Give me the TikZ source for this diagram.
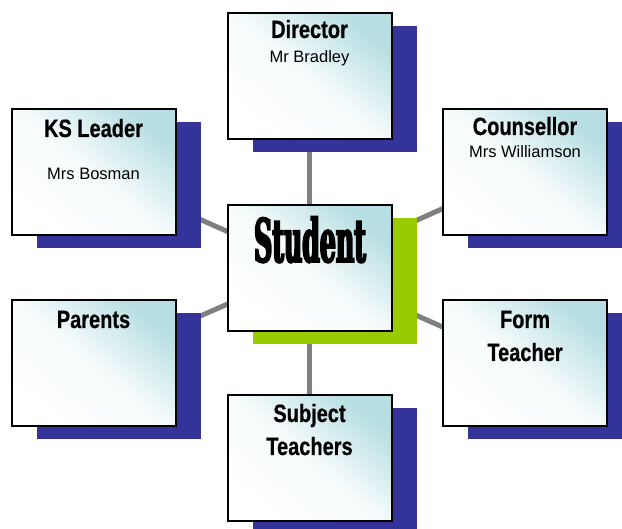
\documentclass[tikz,border=0pt]{standalone}
\usepackage{fontspec}
\setmainfont{Liberation Sans}
\newfontfamily\rolefont[FakeStretch=0.8, BoldFeatures={FakeBold=0.6}]{Liberation Sans}
\newfontfamily\studfont[FakeStretch=0.42, BoldFeatures={FakeBold=3}]{DejaVu Serif}
\usetikzlibrary{shadows,backgrounds}
\definecolor{shadowblue}{RGB}{51,51,153}
\definecolor{shadowgreen}{RGB}{153,204,0}
\definecolor{boxcyan}{RGB}{182,222,226}
\definecolor{linkgray}{RGB}{128,128,128}
\begin{document}
\begin{tikzpicture}[x=1pt,y=-1pt,
		card/.style={draw=black, line width=2pt, minimum width=164pt, minimum height=126pt, inner sep=0pt,
			top color=boxcyan, bottom color=white, middle color=boxcyan!12!white, shading angle=-40,
			drop shadow={shadow xshift=25pt, shadow yshift=-13pt, fill=#1, opacity=1}},
		card/.default=shadowblue,
		role/.style={font=\rolefont\bfseries\fontsize{25}{30}\selectfont, anchor=base, inner sep=0pt},
		person/.style={font=\fontsize{16.5}{20}\selectfont, anchor=base, inner sep=0pt},
		link/.style={draw=linkgray, line width=5pt}]
	\useasboundingbox (0,0) rectangle (622,529);
	\node[card] (dir) at (309.5,76.5) {};
	\node[card] (ks) at (93.5,172) {};
	\node[card] (cou) at (525,172) {};
	\node[card=shadowgreen] (stu) at (309.5,268) {};
	\node[card] (par) at (93.5,363) {};
	\node[card] (form) at (525,363.5) {};
	\node[card] (subj) at (309.5,458) {};
	\node[role] (dirrole) at (309.5,38) {Director};
	\node[person] (dirname) at (309.5,63) {Mr Bradley};
	\node[role] (ksrole) at (93.5,137) {KS Leader};
	\node[person] (ksname) at (93.5,180) {Mrs Bosman};
	\node[role] (courole) at (525,135) {Counsellor};
	\node[person] (couname) at (525,158) {Mrs Williamson};
	\node[font=\studfont\bfseries\fontsize{60}{70}\selectfont, anchor=base, inner sep=0pt] (sturole) at (310,262) {Student};
	\node[role] (parrole) at (93.5,328) {Parents};
	\node[role] (formrole) at (525,328) {Form};
	\node[role] (formrole2) at (525,361) {Teacher};
	\node[role] (subjrole) at (309.5,422) {Subject};
	\node[role] (subjrole2) at (309.5,455) {Teachers};
	\begin{scope}[on background layer]
		\foreach \n in {dir,ks,cou,par,form,subj}
			\draw[link] (stu.center) -- (\n.center);
	\end{scope}
\end{tikzpicture}
\end{document}
